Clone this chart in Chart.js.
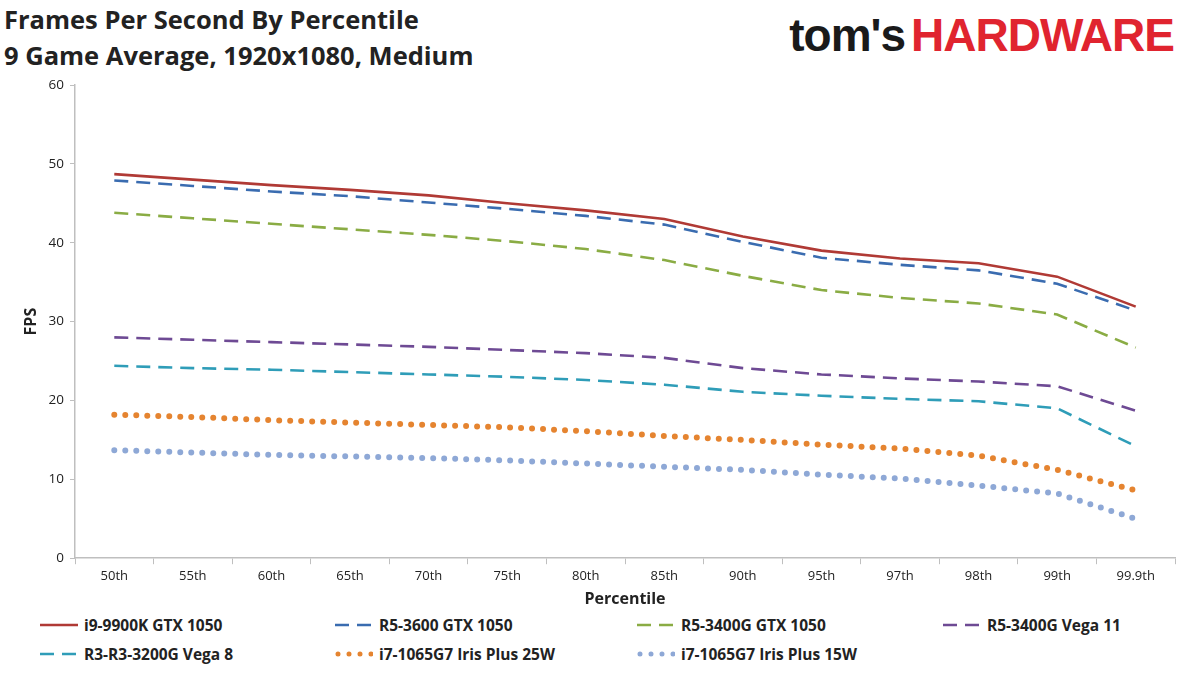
<!DOCTYPE html>
<html>
<head>
<meta charset="utf-8">
<script src="https://cdn.jsdelivr.net/npm/chart.js@4"></script>
<style>
  body { margin: 0; width: 1200px; height: 674px; background: #fff; font-family: "Open Sans", sans-serif; position: relative; overflow: hidden; }
  #title { position: absolute; left: 4px; top: 1px; font-size: 25.5px; font-weight: bold; line-height: 36px; color: #222; }
  #logo { position: absolute; right: 26px; top: 8px; font-size: 46px; font-weight: bold; letter-spacing: -1px; font-family: "Liberation Sans", sans-serif; }
  #logo .t { color: #1a1a1a; margin-right: 6px; }
  #logo .h { color: #e0242f; }
  #wrap { position: absolute; left: 0; top: 0; width: 1200px; height: 613px; }
  #legend { position: absolute; left: 40px; top: 614px; width: 1140px; font-size: 15.5px; font-weight: bold; color: #222; }
  .item { position: absolute; display: flex; align-items: center; }
  .item svg { margin-right: 6px; }
</style>
</head>
<body>
<div id="title">Frames Per Second By Percentile<br>9 Game Average, 1920x1080, Medium</div>
<div id="logo"><span class="t">tom's</span><span class="h">HARDWARE</span></div>
<div id="wrap"><canvas id="c"></canvas></div>
<div id="legend"></div>
<script>
const percentiles = ["50th","55th","60th","65th","70th","75th","80th","85th","90th","95th","97th","98th","99th","99.9th"];
const seriesNames = ["i9-9900K GTX 1050","R5-3600 GTX 1050","R5-3400G GTX 1050","R5-3400G Vega 11","R3-R3-3200G Vega 8","i7-1065G7 Iris Plus 25W","i7-1065G7 Iris Plus 15W"];
const i9_1050   = [48.7,48.0,47.3,46.7,46.0,45.0,44.1,43.0,40.8,39.0,38.0,37.4,35.7,31.9];
const r5_3600   = [47.9,47.2,46.5,45.9,45.1,44.3,43.4,42.3,40.1,38.1,37.2,36.5,34.8,31.4];
const r5_3400g  = [43.8,43.1,42.4,41.7,41.0,40.2,39.2,37.8,35.8,34.0,33.0,32.3,30.9,26.7];
const vega11    = [28.0,27.7,27.4,27.1,26.8,26.4,26.0,25.4,24.1,23.3,22.8,22.4,21.8,18.7];
const vega8     = [24.4,24.1,23.9,23.6,23.3,23.0,22.6,22.0,21.1,20.6,20.2,19.9,19.0,14.2];
const iris25    = [18.2,17.9,17.5,17.2,16.9,16.6,16.1,15.5,15.0,14.4,13.9,13.0,11.2,8.6];
const iris15    = [13.7,13.4,13.1,12.9,12.7,12.4,12.0,11.6,11.2,10.6,10.1,9.2,8.2,5.0];
const yTicks = [0,10,20,30,40,50,60];

const colors = ["#b03a35","#3a6cb0","#8aac44","#6e4a94","#2f9db8","#e58430","#8ea8d6"];
const styles = ["solid","dash","dash","dash","dash","dot","dot"];
const allData = [i9_1050, r5_3600, r5_3400g, vega11, vega8, iris25, iris15];

function dashFor(s) { return s === "solid" ? [] : s === "dash" ? [14, 8] : [0, 11]; }

const datasets = allData.map((d, i) => ({
  label: seriesNames[i],
  data: d,
  borderColor: colors[i],
  backgroundColor: colors[i],
  borderWidth: styles[i] === "dot" ? 6 : 2.6,
  borderDash: dashFor(styles[i]),
  borderCapStyle: styles[i] === "dot" ? "round" : "butt",
  pointRadius: 0,
  tension: 0,
  fill: false
}));

new Chart(document.getElementById("c"), {
  type: "line",
  data: { labels: percentiles, datasets },
  options: {
    responsive: true,
    maintainAspectRatio: false,
    animation: false,
    layout: { padding: { top: 85, right: 25, left: 18, bottom: 0 } },
    plugins: { legend: { display: false }, tooltip: { enabled: false } },
    scales: {
      x: {
        offset: true,
        grid: { display: true, drawOnChartArea: false, offset: true, tickLength: 6, color: "#bfbfbf" },
        border: { color: "#bfbfbf", width: 1.5 },
        ticks: { color: "#222", font: { family: "Open Sans", size: 13 }, maxRotation: 0, padding: 4 },
        title: { display: true, text: "Percentile", color: "#222", font: { family: "Open Sans", size: 16, weight: "bold" }, padding: { top: 2 } }
      },
      y: {
        min: 0, max: 60,
        afterBuildTicks: ax => { ax.ticks = yTicks.map(v => ({ value: v })); },
        afterFit: ax => { ax.width = 57; },
        grid: { display: true, drawOnChartArea: false, tickLength: 5, color: "#bfbfbf" },
        border: { color: "#bfbfbf", width: 1.5 },
        ticks: { color: "#222", font: { family: "Open Sans", size: 13.5 }, padding: 6 },
        title: { display: true, text: "FPS", color: "#222", font: { family: "Open Sans", size: 16, weight: "bold" }, padding: { bottom: 2 } }
      }
    }
  }
});

// legend: 4 columns, 2 rows
const legend = document.getElementById("legend");
const colX = [0, 295, 597, 903];
seriesNames.forEach((name, i) => {
  const el = document.createElement("div");
  el.className = "item";
  el.style.left = colX[i % 4] + "px";
  el.style.top = (i < 4 ? 0 : 29) + "px";
  const s = styles[i];
  const w = s === "dot" ? 5 : 2.6;
  const dash = s === "solid" ? "" : s === "dash" ? "stroke-dasharray='14 8'" : "stroke-dasharray='0 11' stroke-linecap='round'";
  el.innerHTML = `<svg width="38" height="10"><line x1="${s === 'dot' ? 3 : 0}" y1="5" x2="38" y2="5" stroke="${colors[i]}" stroke-width="${w}" ${dash}/></svg><span>${name}</span>`;
  legend.appendChild(el);
});
</script>
</body>
</html>
